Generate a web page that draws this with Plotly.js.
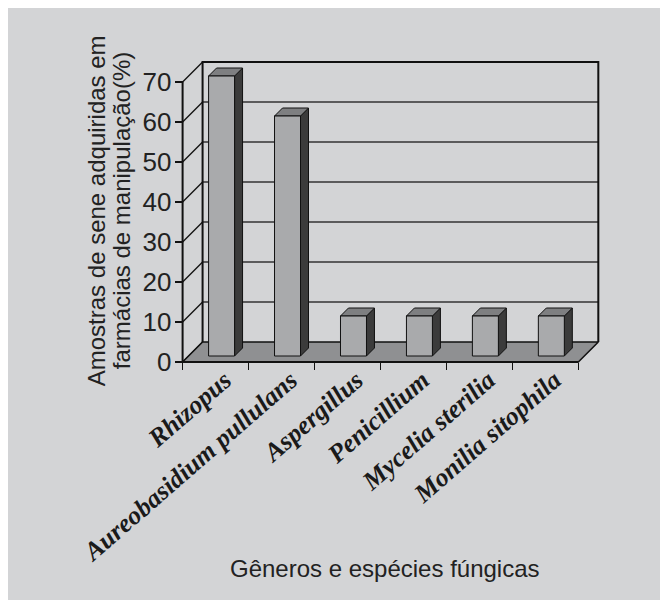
<!DOCTYPE html>
<html>
<head>
<meta charset="utf-8">
<script src="https://cdn.plot.ly/plotly-3.0.1.min.js"></script>
<style>
  html, body { margin: 0; padding: 0; background: #ffffff; width: 660px; height: 600px; overflow: hidden; }
  #chart { position: absolute; left: 8px; top: 8px; width: 652px; height: 592px; }
</style>
</head>
<body>
<div id="chart"></div>
<script>
// Fungal genera / species found in senna samples (% of samples)
const categories = ['Rhizopus', 'Aureobasidium pullulans', 'Aspergillus', 'Penicillium', 'Mycelia sterilia', 'Monilia sitophila'];
const values = [70, 60, 10, 10, 10, 10];
const yTicks = [0, 10, 20, 30, 40, 50, 60, 70];
const yTitleLines = ['Amostras de sene adquiridas em', 'farmácias de manipulação(%)'];
const xTitle = 'Gêneros e espécies fúngicas';

// Pseudo-3D geometry, expressed in axis units
const DX = 20 / 66;          // depth shift along x (category units)
const DY = 5;                // depth shift along y (value units)
const F0 = 0.3, F1 = 0.7;    // front / back depth of each column
const BW = 26 / 66;          // column width
const X0 = -0.5, X1 = categories.length - 0.5;
const YMAX = yTicks[yTicks.length - 1];

const XR = [-0.6, 5.95];
const YR = [-2, 77];

const COL_BG = '#d3d4d6';
const COL_FRONT = '#a9aaac';
const COL_SIDE = '#3b3b3b';
const COL_TOP = '#7e7f81';
const COL_FLOOR = '#8f9092';
const INK = '#111111';

function seg(xs, ys, ax, ay) { xs.push(...ax, null); ys.push(...ay, null); }

// back wall grid lines
const gx = [], gy = [];
yTicks.filter(v => v > 0 && v < YMAX).forEach(v => seg(gx, gy, [X0 + DX, X1 + DX], [v + DY, v + DY]));

// left wall diagonals
const lx = [], ly = [];
yTicks.forEach(v => seg(lx, ly, [X0, X0 + DX], [v, v + DY]));

// floor
const floorX = [X0, X1, X1 + DX, X0 + DX, X0];
const floorY = [0, 0, DY, DY, 0];

// back wall outline
const wallX = [X0 + DX, X0 + DX, X1 + DX, X1 + DX];
const wallY = [DY, YMAX + DY, YMAX + DY, DY];

// column side and top faces
const sx = [], sy = [], tx = [], ty = [];
values.forEach((v, i) => {
  const l = i - BW / 2, r = i + BW / 2;
  seg(sx, sy,
    [r + F0 * DX, r + F1 * DX, r + F1 * DX, r + F0 * DX, r + F0 * DX],
    [F0 * DY, F1 * DY, v + F1 * DY, v + F0 * DY, F0 * DY]);
  seg(tx, ty,
    [l + F0 * DX, r + F0 * DX, r + F1 * DX, l + F1 * DX, l + F0 * DX],
    [v + F0 * DY, v + F0 * DY, v + F1 * DY, v + F1 * DY, v + F0 * DY]);
});

const traces = [
  { x: gx, y: gy, mode: 'lines', line: { color: '#333333', width: 1.3 }, hoverinfo: 'skip' },
  { x: wallX, y: wallY, mode: 'lines', line: { color: INK, width: 2 }, hoverinfo: 'skip' },
  { x: lx, y: ly, mode: 'lines', line: { color: INK, width: 1.3 }, hoverinfo: 'skip' },
  { x: floorX, y: floorY, mode: 'lines', fill: 'toself', fillcolor: COL_FLOOR, line: { color: INK, width: 1.5 }, hoverinfo: 'skip' },
  { x: [X0, X1], y: [0, 0], mode: 'lines', line: { color: INK, width: 2.2 }, hoverinfo: 'skip' },
  { x: [X0, X0], y: [0, YMAX], mode: 'lines', line: { color: INK, width: 2 }, hoverinfo: 'skip' },
  { x: sx, y: sy, mode: 'lines', fill: 'toself', fillcolor: COL_SIDE, line: { color: INK, width: 1 }, hoverinfo: 'skip' },
  { x: tx, y: ty, mode: 'lines', fill: 'toself', fillcolor: COL_TOP, line: { color: INK, width: 1 }, hoverinfo: 'skip' },
  // front faces of the columns
  { type: 'bar', x: categories, y: values, base: F0 * DY, width: BW, offset: -BW / 2 + F0 * DX,
    xaxis: 'x2', yaxis: 'y', marker: { color: COL_FRONT, line: { color: INK, width: 1 } } }
];

const font = { family: 'Liberation Sans, Arial, sans-serif', color: '#222222' };

const layout = {
  width: 652, height: 592,
  margin: { l: 168.1, r: 51.6, t: 45.7, b: 230.3, pad: 0 },
  paper_bgcolor: COL_BG, plot_bgcolor: 'rgba(0,0,0,0)',
  showlegend: false,
  xaxis: { range: XR, visible: false, fixedrange: true },
  xaxis2: {
    overlaying: 'x', type: 'category', range: XR, anchor: 'free',
    position: (0 - YR[0]) / (YR[1] - YR[0]), side: 'bottom',
    tickson: 'boundaries', ticks: 'outside', ticklen: 7, tickwidth: 1.5, tickcolor: INK,
    tickangle: -41, ticklabelshift: 9, ticklabelstandoff: -3,
    showgrid: false, zeroline: false, showline: false,
    tickfont: { family: 'Liberation Serif, Times New Roman, serif', size: 26, weight: 'bold', style: 'italic', color: '#1a1a1a' }
  },
  yaxis: {
    range: YR, anchor: 'free', position: (X0 - XR[0]) / (XR[1] - XR[0]),
    tickvals: yTicks, ticks: 'outside', ticklen: 8, tickwidth: 1.5, tickcolor: INK,
    ticklabelstandoff: -2,
    showgrid: false, zeroline: false, showline: false,
    tickfont: Object.assign({ size: 26 }, font)
  },
  annotations: [
    { text: yTitleLines[0], xref: 'paper', yref: 'paper', x: -0.1853, y: 0.5054, textangle: -90,
      showarrow: false, xanchor: 'center', yanchor: 'middle', font: Object.assign({ size: 24 }, font) },
    { text: yTitleLines[1], xref: 'paper', yref: 'paper', x: -0.1275, y: 0.5054, textangle: -90,
      showarrow: false, xanchor: 'center', yanchor: 'middle', font: Object.assign({ size: 24 }, font) },
    { text: xTitle, xref: 'paper', yref: 'paper', x: 0.4832, y: -0.627,
      showarrow: false, xanchor: 'center', yanchor: 'middle', font: Object.assign({ size: 24 }, font) }
  ]
};

Plotly.newPlot('chart', traces, layout, { staticPlot: true, displayModeBar: false });
</script>
</body>
</html>
